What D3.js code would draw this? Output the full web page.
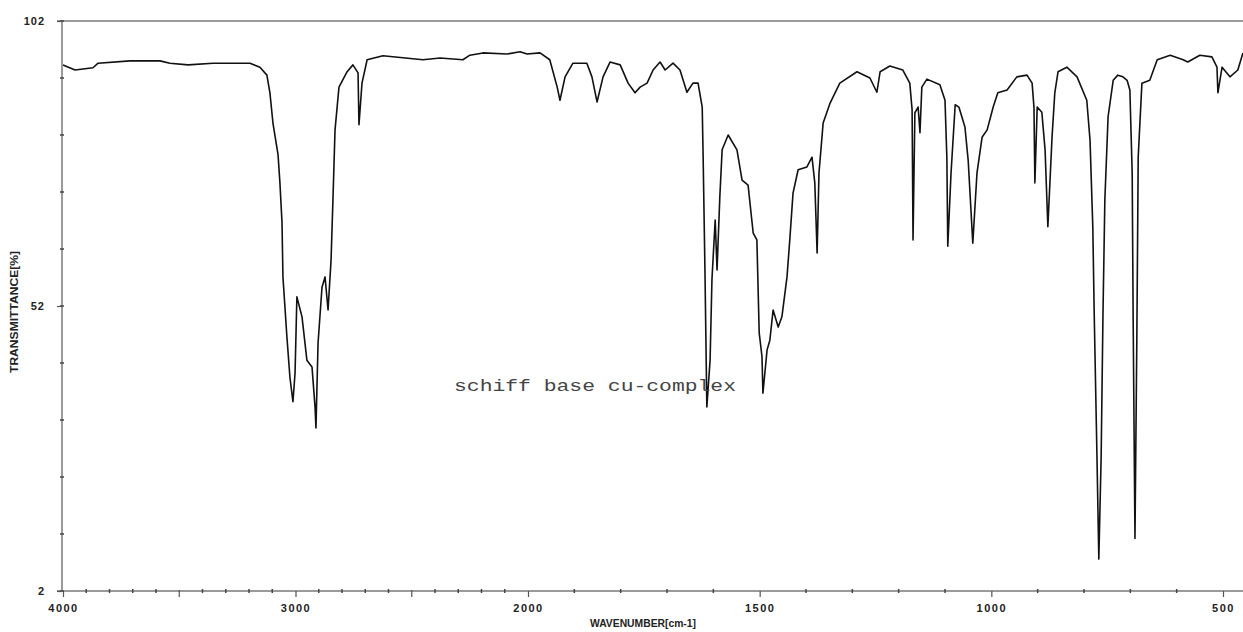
<!DOCTYPE html>
<html>
<head>
<meta charset="utf-8">
<script src="https://cdn.jsdelivr.net/npm/d3@7"></script>
<style>
  body { margin: 0; background: #fff; }
  svg { display: block; }
</style>
</head>
<body>
<div id="chart"></div>
<script>
// IR spectrum
var wavenumber = [4000,3948,3871,3849,3712,3583,3540,3462,3355,3269,3196,3153,3123,3110,3097,3075,3067,3058,3054,3037,
  3024,3011,3002,2994,2972,2951,2929,2916,2912,2903,2886,2873,2860,2847,2839,2830,2813,2778,2753,2731,
  2727,2714,2692,2624,2452,2378,2280,2250,2194,2090,2034,2004,1974,1953,1937,1931,1920,1903,1873,1862,
  1851,1838,1823,1801,1784,1769,1758,1743,1730,1715,1704,1687,1672,1657,1644,1633,1624,1622,1618,1614,
  1607,1603,1596,1592,1586,1581,1568,1549,1538,1525,1514,1506,1501,1495,1493,1484,1478,1471,1460,1452,
  1441,1435,1428,1417,1398,1387,1381,1376,1372,1363,1348,1327,1290,1262,1247,1240,1219,1191,1176,1171,
  1169,1165,1158,1154,1150,1139,1111,1100,1096,1094,1087,1078,1070,1057,1050,1040,1031,1020,1009,996,
  986,966,945,923,912,908,906,901,891,884,878,869,863,856,837,815,794,787,781,778,
  772,768,763,759,755,748,737,727,716,707,701,696,694,690,686,683,675,658,642,614,
  586,576,550,524,513,511,502,485,468,457];
var transmittance = [94.3,93.4,93.8,94.6,95.0,95.0,94.6,94.3,94.6,94.6,94.6,93.9,92.5,89.4,84.1,78.5,73.6,66.6,57.1,46.6,
  39.5,35.2,40.2,53.6,50.1,42.5,41.3,34.3,30.6,45.5,55.3,57.1,51.3,60.1,70.6,82.9,90.4,93.1,94.3,92.9,
  83.8,91.1,95.2,95.9,95.2,95.5,95.2,96.0,96.4,96.2,96.6,96.2,96.4,95.2,90.4,88.1,92.2,94.6,94.6,92.2,
  87.8,92.2,94.8,94.3,91.1,89.4,90.4,91.1,93.4,94.8,93.4,94.6,93.4,89.5,91.1,91.1,86.9,78.1,57.8,34.3,
  42.5,56.6,67.1,58.3,71.1,79.4,82.0,79.4,74.1,73.2,64.8,63.6,47.3,43.1,36.7,44.3,46.0,51.3,48.3,50.1,
  57.1,63.6,71.8,75.9,76.4,78.1,73.6,61.3,75.3,84.1,87.6,91.1,93.1,92.0,89.5,93.1,94.1,93.4,91.1,86.4,
  63.6,85.9,86.9,82.4,90.4,91.8,90.8,88.1,78.1,62.5,75.3,87.3,86.9,83.4,77.6,63.0,75.3,81.6,82.9,86.9,
  89.4,89.9,92.2,92.5,91.1,86.9,73.6,86.9,86.0,79.4,65.9,81.6,89.4,93.1,93.9,92.2,88.1,81.1,65.9,50.8,
  25.5,7.6,25.5,50.8,70.6,85.2,91.6,92.5,92.2,91.6,89.9,75.3,50.8,11.2,46.0,78.1,91.1,91.6,95.2,96.0,
  95.2,94.8,96.0,95.7,93.9,89.4,93.9,92.2,93.4,96.4];

var xMajorTicks = [4000, 3000, 2000, 1500, 1000, 500];
var xMediumTicks = [3500, 2500];
var xMinorTicks = d3.range(4000, 400, -100);
var yLabelTicks = [102, 52, 2];
var yMinorTicks = d3.range(2, 103, 10);

var width = 1243, height = 632;
var plotLeft = 62, plotTop = 21, plotBottom = 591;

var svg = d3.select("#chart").append("svg")
  .attr("width", width)
  .attr("height", height);

// the instrument compresses the scale above 2000 cm-1
var x = d3.scaleLinear()
  .domain([4000, 2000, 500])
  .range([63, 528, 1223]);

var y = d3.scaleLinear()
  .domain([2, 102])
  .range([plotBottom, plotTop]);

var axisColour = "#9a9a9a";
var labelFont = "'Liberation Sans', Arial, sans-serif";

//frame: left axis, top border, bottom axis
svg.append("line")
  .attr("x1", plotLeft).attr("x2", plotLeft)
  .attr("y1", plotTop).attr("y2", plotBottom)
  .attr("stroke", axisColour).attr("stroke-width", 2);
svg.append("line")
  .attr("x1", plotLeft - 5).attr("x2", width)
  .attr("y1", plotTop).attr("y2", plotTop)
  .attr("stroke", axisColour).attr("stroke-width", 2);
svg.append("line")
  .attr("x1", plotLeft - 5).attr("x2", width)
  .attr("y1", plotBottom).attr("y2", plotBottom)
  .attr("stroke", axisColour).attr("stroke-width", 2);

//x axis ticks
var gx = svg.append("g").attr("transform", "translate(0," + plotBottom + ")");
gx.selectAll(".minor")
  .data(xMinorTicks.filter(function(d) { return xMajorTicks.indexOf(d) < 0 && xMediumTicks.indexOf(d) < 0; }))
  .enter().append("line")
  .attr("x1", function(d) { return x(d); })
  .attr("x2", function(d) { return x(d); })
  .attr("y1", -2).attr("y2", 2)
  .attr("stroke", "#444").attr("stroke-width", 1.5);
gx.selectAll(".medium")
  .data(xMediumTicks)
  .enter().append("line")
  .attr("x1", function(d) { return x(d); })
  .attr("x2", function(d) { return x(d); })
  .attr("y1", -1).attr("y2", 6)
  .attr("stroke", "#555").attr("stroke-width", 1.2);

var xAxis = d3.axisBottom(x)
  .tickValues(xMajorTicks)
  .tickSize(6)
  .tickPadding(7)
  .tickFormat(d3.format("d"));
var gxa = gx.append("g").call(xAxis);
gxa.select(".domain").remove();
gxa.selectAll(".tick line").attr("stroke", "#555").attr("stroke-width", 1.2);
gxa.selectAll("text")
  .style("font-family", labelFont)
  .style("font-size", "11px")
  .style("font-weight", "bold")
  .style("letter-spacing", "1.5px")
  .style("fill", "#222");

//y axis ticks
var gy = svg.append("g").attr("transform", "translate(" + plotLeft + ",0)");
gy.selectAll(".minor")
  .data(yMinorTicks)
  .enter().append("line")
  .attr("x1", -2).attr("x2", 2)
  .attr("y1", function(d) { return y(d); })
  .attr("y2", function(d) { return y(d); })
  .attr("stroke", "#444").attr("stroke-width", 1.5);
var yAxis = d3.axisLeft(y)
  .tickValues(yLabelTicks)
  .tickSize(5)
  .tickPadding(12)
  .tickFormat(d3.format("d"));
var gya = gy.append("g").call(yAxis);
gya.select(".domain").remove();
gya.selectAll(".tick line").attr("stroke", "#555").attr("stroke-width", 1.2);
gya.selectAll("text")
  .style("font-family", labelFont)
  .style("font-size", "11px")
  .style("font-weight", "bold")
  .style("letter-spacing", "1px")
  .style("fill", "#222");

//axis titles
svg.append("text")
  .attr("transform", "translate(18,312) rotate(-90)")
  .attr("text-anchor", "middle")
  .attr("textLength", 122)
  .attr("lengthAdjust", "spacingAndGlyphs")
  .text("TRANSMITTANCE[%]")
  .style("font-family", labelFont)
  .style("font-size", "10px")
  .style("font-weight", "bold")
  .style("fill", "#222");

svg.append("text")
  .attr("x", 643)
  .attr("y", 627)
  .attr("text-anchor", "middle")
  .attr("textLength", 106)
  .attr("lengthAdjust", "spacingAndGlyphs")
  .text("WAVENUMBER[cm-1]")
  .style("font-family", labelFont)
  .style("font-size", "10px")
  .style("font-weight", "bold")
  .style("fill", "#222");

//spectrum
svg.append("clipPath").attr("id", "plotClip")
  .append("rect")
  .attr("x", plotLeft).attr("y", plotTop)
  .attr("width", width - plotLeft).attr("height", plotBottom - plotTop);

var points = wavenumber.map(function(d, i) { return [d, transmittance[i]]; });
var line = d3.line()
  .x(function(d) { return x(d[0]); })
  .y(function(d) { return y(d[1]); });

svg.append("path")
  .datum(points)
  .attr("clip-path", "url(#plotClip)")
  .attr("d", line)
  .attr("fill", "none")
  .attr("stroke", "#111")
  .attr("stroke-width", 1.6)
  .attr("stroke-linejoin", "round");

//sample note
svg.append("text")
  .attr("x", 454)
  .attr("y", 391)
  .attr("textLength", 282)
  .attr("lengthAdjust", "spacingAndGlyphs")
  .text("schiff base cu-complex")
  .style("font-family", "'Liberation Mono', 'DejaVu Sans Mono', monospace")
  .style("font-size", "16px")
  .style("fill", "#444");
</script>
</body>
</html>
